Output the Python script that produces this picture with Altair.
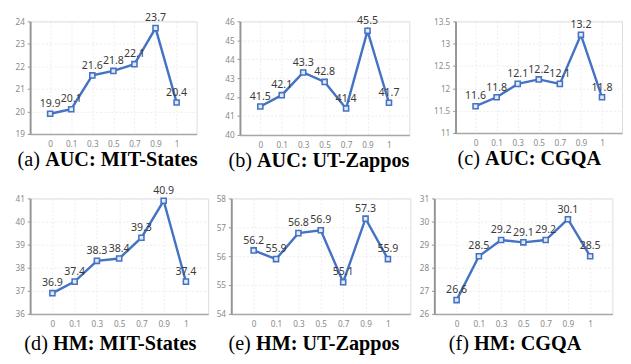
import altair as alt
import pandas as pd

cats = ["0", "0.1", "0.3", "0.5", "0.7", "0.9", "1"]

auc_mit = [19.9, 20.1, 21.6, 21.8, 22.1, 23.7, 20.4]
auc_ut = [41.5, 42.1, 43.3, 42.8, 41.4, 45.5, 41.7]
auc_cgqa = [11.6, 11.8, 12.1, 12.2, 12.1, 13.2, 11.8]
hm_mit = [36.9, 37.4, 38.3, 38.4, 39.3, 40.9, 37.4]
hm_ut = [56.2, 55.9, 56.8, 56.9, 55.1, 57.3, 55.9]
hm_cgqa = [26.6, 28.5, 29.2, 29.1, 29.2, 30.1, 28.5]

ticks_auc_mit = [19, 20, 21, 22, 23, 24]
ticks_auc_ut = [40, 41, 42, 43, 44, 45, 46]
ticks_auc_cgqa = [11, 11.5, 12, 12.5, 13, 13.5]
ticks_hm_mit = [36, 37, 38, 39, 40, 41]
ticks_hm_ut = [54, 55, 56, 57, 58]
ticks_hm_cgqa = [26, 27, 28, 29, 30, 31]

prefixes = ["(a)", "(b)", "(c)", "(d)", "(e)", "(f)"]
names = ["AUC: MIT-States", "AUC: UT-Zappos", "AUC: CGQA",
         "HM: MIT-States", "HM: UT-Zappos", "HM: CGQA"]

BLUE = "#4472C4"
NUM_FONT = "Noto Sans"
CAP_FONT = "Liberation Serif"


def panel(prefix, name, vals, ticks, w, h, ext, cap_x, pref_w, pad, cap_dy):
    df = pd.DataFrame({"x": cats, "y": vals})
    x = alt.X(
        "x:N", sort=cats,
        scale=alt.Scale(type="point", padding=pad),
        axis=alt.Axis(title=None, labelAngle=0, labelFont=NUM_FONT,
                      labelFontSize=8.5, labelColor="#8a8a8a",
                      grid=True, gridColor="#e6e6e6", gridDash=[2, 2],
                      gridWidth=0.8,
                      domainColor="#a8a8a8", domainWidth=1.5,
                      ticks=False, labelPadding=6),
    )
    y = alt.Y(
        "y:Q",
        scale=alt.Scale(domain=[ticks[0], ticks[-1]], nice=False, zero=False),
        axis=alt.Axis(title=None, values=ticks, format="~g",
                      labelFont=NUM_FONT,
                      labelFontSize=8.5, labelColor="#8a8a8a",
                      grid=True, gridColor="#e6e6e6", gridDash=[2, 2],
                      gridWidth=0.8,
                      domainColor="#949494", domainWidth=2,
                      tickColor="#949494", tickSize=3, labelPadding=3,
                      minExtent=ext, maxExtent=ext),
    )
    base = alt.Chart(df).encode(x=x, y=y)
    line = base.mark_line(color=BLUE, strokeWidth=2.5)
    pts = base.mark_square(size=28, fill="#e2eaf7", stroke=BLUE,
                           strokeWidth=1.6, opacity=1)
    lbl = base.mark_text(dy=-7, baseline="alphabetic", fontSize=11,
                         font=NUM_FONT, color="#3a3a3a").encode(
        text=alt.Text("y:Q", format=".1f"))
    cap1 = alt.Chart(alt.Data(values=[{"t": prefix}])).mark_text(
        align="left", baseline="alphabetic", font=CAP_FONT, fontSize=21,
        color="black").encode(x=alt.value(cap_x), y=alt.value(h + cap_dy),
                              text="t:N")
    cap2 = alt.Chart(alt.Data(values=[{"t": name}])).mark_text(
        align="left", baseline="alphabetic", font=CAP_FONT, fontSize=21,
        fontWeight="bold", color="black").encode(
        x=alt.value(cap_x + pref_w), y=alt.value(h + cap_dy), text="t:N")
    return alt.layer(line, pts, lbl, cap1, cap2).properties(width=w, height=h)


pa = panel(prefixes[0], names[0], auc_mit, ticks_auc_mit, 173, 117, 22, -13, 28.6, 0.95, 33)
pb = panel(prefixes[1], names[1], auc_ut, ticks_auc_ut, 176, 118, 28, -12, 29.7, 0.95, 33)
pc = panel(prefixes[2], names[2], auc_cgqa, ticks_auc_cgqa, 173, 116, 33, 2, 28.6, 0.95, 33)
pd_ = panel(prefixes[3], names[3], hm_mit, ticks_hm_mit, 185, 120, 19, -6, 29.7, 1.0, 37)
pe = panel(prefixes[4], names[4], hm_ut, ticks_hm_ut, 186, 120, 19, -3, 28.6, 1.0, 37)
pf = panel(prefixes[5], names[5], hm_cgqa, ticks_hm_cgqa, 185, 120, 20, 15, 26.3, 1.0, 37)

chart = alt.concat(
    pa, pb, pc, pd_, pe, pf, columns=3,
    spacing={"row": 7, "column": 3},
    align={"row": "all", "column": "none"},
).properties(
    padding={"left": 0, "top": -3, "right": 0, "bottom": 0}
).configure_view(stroke=None).configure(background="white")

chart.save("out.html", embed_options={"renderer": "svg", "actions": False})
